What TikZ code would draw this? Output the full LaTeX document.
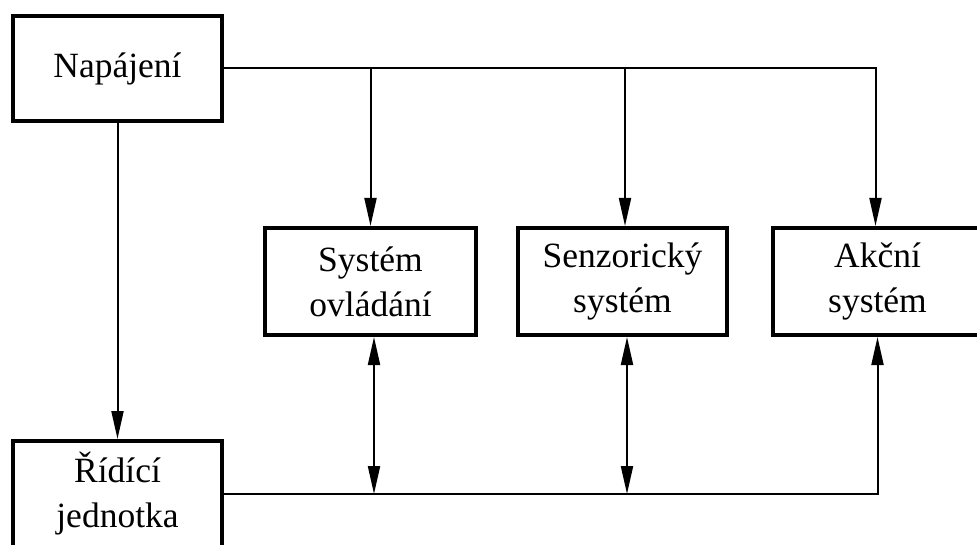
\documentclass[tikz,border=0pt]{standalone}
\usepackage{fontspec}
\setmainfont{Liberation Serif}
\usetikzlibrary{arrows.meta,calc}
\begin{document}
\begin{tikzpicture}[x=1pt,y=-1pt,
  block/.style={draw, line width=4pt, rectangle, align=center, inner sep=0pt,
    font=\fontsize{35.5}{45}\selectfont},
  link/.style={line width=2pt, -{Triangle[length=28pt,width=12pt]}},
  plain/.style={line width=2pt},
  both/.style={line width=2pt, {Triangle[length=28pt,width=12pt]}-{Triangle[length=28pt,width=12pt]}}]
\useasboundingbox (0,0) rectangle (977,545);
\clip (0,0) rectangle (977,545);

% blocks
\node[block, minimum width=209pt, minimum height=105pt] (nap) at (117.5,68.5) {Napájení};
\node[block, minimum width=209pt, minimum height=106pt] (rid) at (117.5,494) {Řídící\\jednotka};
\node[block, minimum width=211pt, minimum height=107pt] (sys) at (370.5,281.5) {Systém\\ovládání};
\node[block, minimum width=209pt, minimum height=107pt] (sen) at (622.5,281.5) {Senzorický\\systém};
\node[block, minimum width=209pt, minimum height=107pt] (akc) at (877.5,281.5) {Akční\\systém};

% supply bus from the power block
\draw[link] (nap.east) -| ([xshift=-2pt]akc.north);
\draw[link] (sys.north |- nap.east) -- (sys.north);
\draw[link] ([xshift=2.5pt]sen.north |- nap.east) -- ([xshift=2.5pt]sen.north);
\draw[link] (nap.south) -- (rid.north);

% control bus from the control unit
\draw[link] (rid.east) -| (akc.south);
\draw[both] ([xshift=3.5pt]sys.south) -- ([xshift=3.5pt]sys.south |- rid.east);
\draw[both] ([xshift=4.5pt]sen.south) -- ([xshift=4.5pt]sen.south |- rid.east);
\end{tikzpicture}
\end{document}
